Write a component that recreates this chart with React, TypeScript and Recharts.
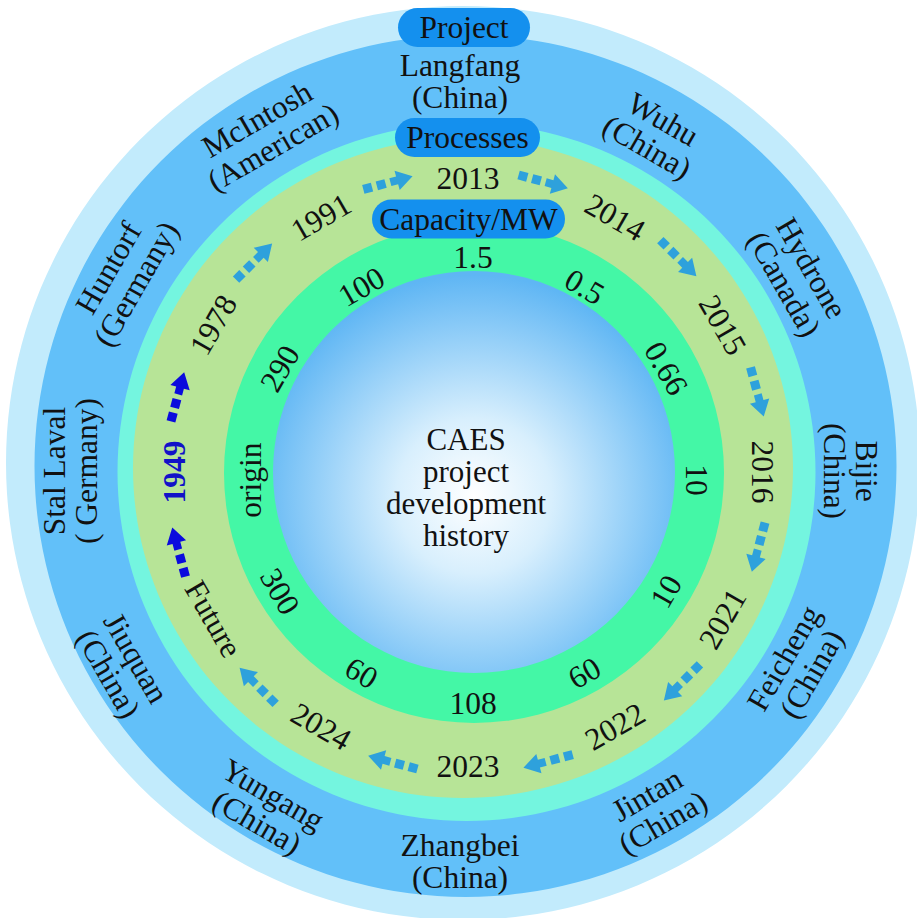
import React from 'react';
import { PieChart, Pie, Cell } from 'recharts';

// ring contents, clockwise from the top
const projectNames = ['Langfang', 'Wuhu', 'Hydrone', 'Bijie', 'Feicheng', 'Jintan', 'Zhangbei', 'Yungang', 'Jiuquan', 'Stal Laval', 'Huntorf', 'McIntosh'];
const projectCountries = ['(China)', '(China)', '(Canada)', '(China)', '(China)', '(China)', '(China)', '(China)', '(China)', '( Germany)', '(Germany)', '(American)'];
const processYears = ['2013', '2014', '2015', '2016', '2021', '2022', '2023', '2024', 'Future', '1949', '1978', '1991'];
const capacities = ['1.5', '0.5', '0.66', '10', '10', '60', '108', '60', '300', 'origin', '290', '100'];
const ringTitles = ['Project', 'Processes', 'Capacity/MW'];
const centerTitle = ['CAES', 'project', 'development', 'history'];
const highlightYear = '1949';

const FONT = '"Liberation Serif", "Times New Roman", serif';
const FS = 31.5;
const ARROW = '#2EA1DC';
const ARROW_DARK = '#0B0BDD';

const projectData = projectNames.map((name, i) => ({ name, country: projectCountries[i], value: 1 }));
const yearData = processYears.map((name) => ({ name, value: 1 }));
const capacityData = capacities.map((name) => ({ name, value: 1 }));
const one = [{ value: 1 }];

const polar = (cx: number, cy: number, r: number, theta: number) => {
  const a = (theta * Math.PI) / 180;
  return { x: cx + r * Math.sin(a), y: cy - r * Math.cos(a) };
};

// keep text readable: tops outward on the upper half, inward on the lower half
const textRotation = (theta: number) => {
  const t = ((theta % 360) + 360) % 360;
  if (t > 90 && t < 270) return t - 180;
  return t > 180 ? t - 360 : t;
};

const compass = (midAngle: number) => 90 - midAngle;

const ProjectLabel = (props: any) => {
  const { midAngle, index } = props;
  const theta = compass(midAngle);
  const { x, y } = polar(460, 471, 390, theta);
  const rot = textRotation(theta);
  const d = projectData[index];
  return (
    <g transform={`rotate(${rot} ${x} ${y})`}>
      <text x={x} y={y - 16} textAnchor="middle" dominantBaseline="central" fontSize={FS} fontFamily={FONT} fill="#111">
        {d.name}
      </text>
      <text x={x} y={y + 16} textAnchor="middle" dominantBaseline="central" fontSize={FS} fontFamily={FONT} fill="#111">
        {d.country}
      </text>
    </g>
  );
};

const Arrow = ({ x, y, angle, color }: { x: number; y: number; angle: number; color: string }) => (
  <g transform={`translate(${x} ${y}) rotate(${angle})`} fill={color}>
    <rect x={-28} y={-4.5} width={9} height={9} />
    <rect x={-14} y={-4.5} width={9} height={9} />
    <polygon points="0,-4 7,-4 7,-10 23,0 7,10 7,4 0,4" />
  </g>
);

const YearLabel = (props: any) => {
  const { midAngle, index } = props;
  const theta = compass(midAngle);
  const { x, y } = polar(468, 472, 294, theta);
  const rot = textRotation(theta);
  const name = processYears[index];
  const next = processYears[(index + 1) % processYears.length];
  const hl = name === highlightYear;
  const a = polar(468, 472, 300, theta + 15);
  const dark = hl || next === highlightYear;
  return (
    <g>
      <text
        x={x}
        y={y}
        transform={`rotate(${rot} ${x} ${y})`}
        textAnchor="middle"
        dominantBaseline="central"
        fontSize={FS}
        fontFamily={FONT}
        fontWeight={hl ? 'bold' : 'normal'}
        fill={hl ? '#1212C8' : '#111'}
      >
        {name}
      </text>
      <Arrow x={a.x} y={a.y} angle={theta + 15} color={dark ? ARROW_DARK : ARROW} />
    </g>
  );
};

const CapacityLabel = (props: any) => {
  const { midAngle, index } = props;
  const theta = compass(midAngle);
  const { x, y } = polar(473, 480, 223, theta);
  const rot = textRotation(theta);
  return (
    <text
      x={x}
      y={y}
      transform={`rotate(${rot} ${x} ${y})`}
      textAnchor="middle"
      dominantBaseline="central"
      fontSize={FS}
      fontFamily={FONT}
      fill="#111"
    >
      {capacities[index]}
    </text>
  );
};

const pills = [
  { cx: 464, cy: 27.5, w: 132 },
  { cx: 467.5, cy: 137.5, w: 145 },
  { cx: 468.5, cy: 219, w: 193 },
];

// ring titles and the centre caption sit above the chart layers
const Overlay = () => (
  <svg width={917} height={918} style={{ position: 'absolute', left: 0, top: 0, pointerEvents: 'none' }}>
    {ringTitles.map((t, i) => {
      const p = pills[i];
      return (
        <g key={t}>
          <rect x={p.cx - p.w / 2} y={p.cy - 19.5} width={p.w} height={39} rx={19.5} fill="#1490EE" />
          <text x={p.cx} y={p.cy} textAnchor="middle" dominantBaseline="central" fontSize={FS} fontFamily={FONT} fill="#111">
            {t}
          </text>
        </g>
      );
    })}
    {centerTitle.map((t, i) => (
      <text key={t} x={466} y={439 + i * 32} textAnchor="middle" dominantBaseline="central" fontSize={31} fontFamily={FONT} fill="#111">
        {t}
      </text>
    ))}
  </svg>
);

export default function App() {
  return (
    <div style={{ position: 'absolute', left: 0, top: 0, width: 917, height: 918, background: '#fff' }}>
      <PieChart width={917} height={918} margin={{ top: 0, right: 0, bottom: 0, left: 0 }}>
        <defs>
          <radialGradient id="core" cx="50%" cy="56%" r="55%">
            <stop offset="0%" stopColor="#ffffff" />
            <stop offset="35%" stopColor="#d8effd" />
            <stop offset="100%" stopColor="#5fb6f4" />
          </radialGradient>
        </defs>
        <Pie data={one} dataKey="value" cx={463} cy={463} outerRadius={457} fill="#C2EBFC" stroke="none" isAnimationActive={false} />
        <Pie data={one} dataKey="value" cx={465.5} cy={466} outerRadius={431} fill="#62C0F9" stroke="none" isAnimationActive={false} />
        <Pie data={one} dataKey="value" cx={466.5} cy={472} outerRadius={349} fill="#74F5DF" stroke="none" isAnimationActive={false} />
        <Pie data={one} dataKey="value" cx={463} cy={468} outerRadius={330} fill="#B7E497" stroke="none" isAnimationActive={false} />
        <Pie data={one} dataKey="value" cx={474} cy={473} outerRadius={250} fill="#44F7A6" stroke="none" isAnimationActive={false} />
        <Pie data={one} dataKey="value" cx={474} cy={472} outerRadius={201} fill="url(#core)" stroke="none" isAnimationActive={false} />

        <Pie data={projectData} dataKey="value" cx={460} cy={471} outerRadius={430} innerRadius={350} startAngle={105} endAngle={-255}
          stroke="none" labelLine={false} label={ProjectLabel} isAnimationActive={false}>
          {projectData.map((d) => <Cell key={d.name} fill="none" />)}
        </Pie>
        <Pie data={yearData} dataKey="value" cx={468} cy={472} outerRadius={330} innerRadius={252} startAngle={105} endAngle={-255}
          stroke="none" labelLine={false} label={YearLabel} isAnimationActive={false}>
          {yearData.map((d) => <Cell key={d.name} fill="none" />)}
        </Pie>
        <Pie data={capacityData} dataKey="value" cx={474} cy={474} outerRadius={250} innerRadius={202} startAngle={105} endAngle={-255}
          stroke="none" labelLine={false} label={CapacityLabel} isAnimationActive={false}>
          {capacityData.map((d, i) => <Cell key={i} fill="none" />)}
        </Pie>
      </PieChart>
      <Overlay />
    </div>
  );
}
